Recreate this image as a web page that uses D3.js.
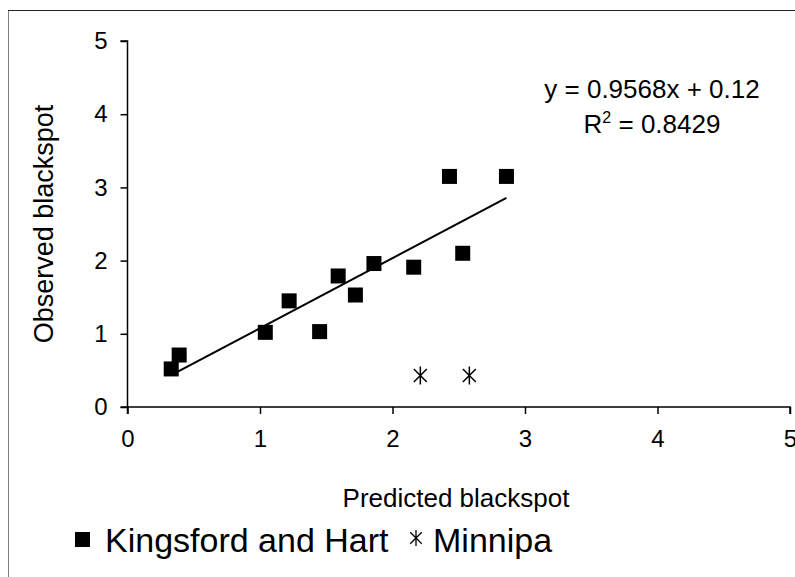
<!DOCTYPE html>
<html><head><meta charset="utf-8">
<script src="https://cdn.jsdelivr.net/npm/d3@7"></script>
<style>body{margin:0;background:#fff;} svg{display:block;} text{font-family:"Liberation Sans",Arial,sans-serif;fill:#000;}</style>
</head><body>
<svg id="c" width="795" height="577"></svg>
<script>
const khX = [0.33, 0.39, 1.04, 1.22, 1.45, 1.59, 1.72, 1.86, 2.16, 2.43, 2.53, 2.86];
const khY = [0.52, 0.71, 1.02, 1.45, 1.03, 1.79, 1.53, 1.96, 1.91, 3.15, 2.10, 3.15];
const minX = [2.21, 2.58];
const minY = [0.43, 0.43];
const ticks = [0, 1, 2, 3, 4, 5];
const slope = 0.9568, intercept = 0.12;
const eqText = "y = 0.9568x + 0.12";
const r2Text = "0.8429";
const xTitle = "Predicted blackspot";
const yTitle = "Observed blackspot";
const legendNames = ["Kingsford and Hart", "Minnipa"];

const svg = d3.select("#c");
svg.append("rect").attr("x",8.5).attr("y",10.5).attr("width",800).attr("height",600)
  .attr("fill","#fff").attr("stroke","#808080").attr("stroke-width",1);
svg.append("line").attr("x1",8).attr("x2",795).attr("y1",10.5).attr("y2",10.5).attr("stroke","#222");

const x = d3.scaleLinear().domain([0,5]).range([127.5, 790]);
const y = d3.scaleLinear().domain([0,5]).range([407, 41]);

const gx = svg.append("g").attr("transform",`translate(0,${y(0)})`)
  .call(d3.axisBottom(x).tickValues(ticks).tickSize(7).tickPadding(16).tickFormat(d3.format("d")));
const gy = svg.append("g").attr("transform",`translate(${x(0)},0)`)
  .call(d3.axisLeft(y).tickValues(ticks).tickSize(7).tickPadding(13).tickFormat(d3.format("d")));
[gx,gy].forEach(g=>{
  g.select(".domain").attr("stroke","#000").attr("stroke-width",1.5);
  g.selectAll(".tick line").attr("stroke","#000").attr("stroke-width",1.5);
  g.selectAll(".tick text").style("font-size","24px").attr("font-family","Liberation Sans, Arial, sans-serif").attr("fill","#000");
});
gx.select(".domain").attr("d",`M${x(0)},7V0H${x(5)}V7`);
gy.select(".domain").attr("d",`M-7,${y(5)}H0V${y(0)}H-7`);

// trendline
const x0 = d3.min(khX), x1 = d3.max(khX);
svg.append("line").attr("x1",x(x0)).attr("y1",y(slope*x0+intercept))
  .attr("x2",x(x1)).attr("y2",y(slope*x1+intercept)).attr("stroke","#000").attr("stroke-width",2);

// squares
const S = 15;
svg.append("g").selectAll("rect").data(khX.map((v,i)=>[v,khY[i]])).join("rect")
  .attr("x",d=>x(d[0])-S/2).attr("y",d=>y(d[1])-S/2).attr("width",S).attr("height",S).attr("fill","#000");

function star(g, cx, cy, r, w){
  const p = d3.path();
  const d = r*0.72;
  p.moveTo(cx, cy - r); p.lineTo(cx, cy + r);
  p.moveTo(cx - d, cy - d); p.lineTo(cx + d, cy + d);
  p.moveTo(cx + d, cy - d); p.lineTo(cx - d, cy + d);
  g.append("path").attr("d",p.toString()).attr("stroke","#000").attr("stroke-width",w).attr("fill","none");
}
const sg = svg.append("g");
minX.forEach((v,i)=>star(sg, x(v), y(minY[i]), 9, 1.5));

// titles
svg.append("text").attr("x",456).attr("y",507).attr("text-anchor","middle")
  .style("font-size","26px").text(xTitle);
svg.append("text").attr("transform",`translate(53,${(y(0)+y(5))/2}) rotate(-90)`).attr("text-anchor","middle")
  .style("font-size","27px").text(yTitle);

// equation
svg.append("text").attr("x",652).attr("y",98).attr("text-anchor","middle").style("font-size","26px").text(eqText);
const r2 = svg.append("text").attr("x",652).attr("y",133).attr("text-anchor","middle").style("font-size","26px");
r2.append("tspan").text("R");
r2.append("tspan").attr("dy",-10).style("font-size","16px").text("2");
r2.append("tspan").attr("dy",10).text(" = " + r2Text);

// legend
const lg = svg.append("g");
lg.append("rect").attr("x",75).attr("y",532).attr("width",15).attr("height",15).attr("fill","#000");
lg.append("text").attr("x",105).attr("y",552).style("font-size","34px").text(legendNames[0]);
star(lg, 416, 538, 8, 1.3);
lg.append("text").attr("x",433).attr("y",552).style("font-size","34px").text(legendNames[1]);
</script>
</body></html>
